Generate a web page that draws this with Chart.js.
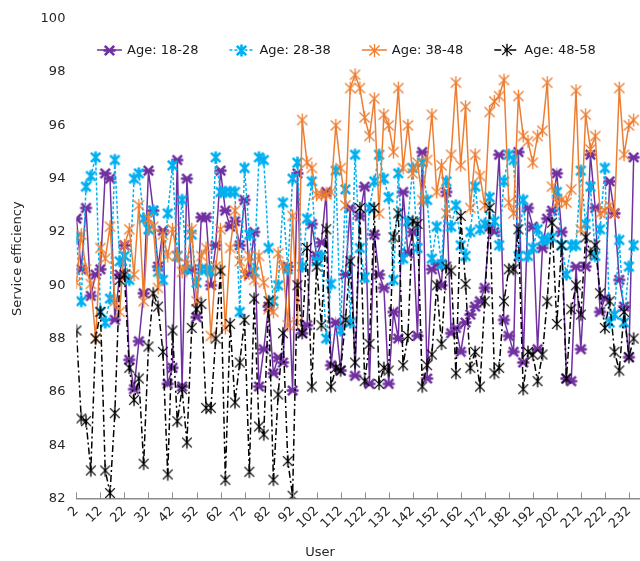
<!DOCTYPE html>
<html>
<head>
<meta charset="utf-8">
<script src="https://cdn.jsdelivr.net/npm/chart.js@4/dist/chart.umd.min.js"></script>
<style>
  html, body { margin: 0; padding: 0; background: #fff; overflow: hidden; }
  #wrap { width: 658px; height: 561px; }
</style>
</head>
<body>
<div id="wrap"><canvas id="chart" width="658" height="561"></canvas></div>
<script>
// users on the x axis (every second user is plotted)
const users = [
  2, 4, 6, 8, 10, 12, 14, 16, 18, 20,
  22, 24, 26, 28, 30, 32, 34, 36, 38, 40,
  42, 44, 46, 48, 50, 52, 54, 56, 58, 60,
  62, 64, 66, 68, 70, 72, 74, 76, 78, 80,
  82, 84, 86, 88, 90, 92, 94, 96, 98, 100,
  102, 104, 106, 108, 110, 112, 114, 116, 118, 120,
  122, 124, 126, 128, 130, 132, 134, 136, 138, 140,
  142, 144, 146, 148, 150, 152, 154, 156, 158, 160,
  162, 164, 166, 168, 170, 172, 174, 176, 178, 180,
  182, 184, 186, 188, 190, 192, 194, 196, 198, 200,
  202, 204, 206, 208, 210, 212, 214, 216, 218, 220,
  222, 224, 226, 228, 230, 232, 234
];

const age18to28 = [
  92.5, 90.6, 92.9, 89.6, 90.4, 90.6, 94.2, 94.0, 88.7, 90.4,
  91.5, 87.2, 86.1, 87.9, 89.7, 94.3, 92.8, 90.7, 92.05, 86.3,
  86.9, 94.7, 86.2, 94.0, 90.6, 88.8, 92.55, 92.55, 90.0, 91.5,
  94.3, 92.8, 92.2, 92.4, 91.5, 93.2, 90.4, 92.0, 86.2, 87.6,
  89.2, 86.7, 87.3, 87.1, 90.7, 86.05, 94.2, 88.2, 88.5, 92.3,
  91.1, 91.6, 93.5, 87.0, 88.6, 86.8, 90.4, 92.9, 86.6, 92.6,
  93.7, 86.3, 91.9, 90.4, 89.9, 86.3, 89.0, 88.0, 93.5, 91.2,
  92.0, 88.1, 95.0, 86.5, 90.6, 90.8, 90.0, 93.5, 88.2, 88.4,
  87.5, 88.6, 88.9, 89.2, 89.4, 89.9, 92.2, 92.0, 94.9, 88.7,
  88.1, 87.5, 95.0, 87.1, 92.9, 92.2, 87.6, 91.4, 92.5, 92.8,
  94.2, 92.0, 86.5, 86.4, 90.7, 87.6, 90.7, 94.9, 92.9, 89.0,
  89.5, 93.9, 92.7, 90.2, 89.2, 87.3, 94.8
];

const age28to38 = [
  91.8, 89.4, 93.7, 94.1, 94.8, 89.0, 88.6, 89.5, 94.7, 90.9,
  91.1, 90.2, 94.0, 94.2, 92.5, 92.1, 92.8, 90.5, 90.2, 92.7,
  94.5, 91.1, 93.2, 90.6, 91.9, 90.1, 90.6, 90.6, 90.5, 94.8,
  93.5, 93.5, 93.5, 93.5, 89.0, 94.4, 91.9, 90.5, 94.8, 94.7,
  91.4, 89.4, 90.0, 93.1, 90.6, 94.0, 94.6, 90.7, 92.5, 93.9,
  90.9, 91.1, 88.0, 90.05, 94.3, 88.3, 93.6, 88.6, 94.9, 91.4,
  90.3, 92.9, 93.9, 94.9, 94.0, 93.3, 90.2, 94.2, 91.0, 92.4,
  94.4, 91.4, 94.6, 93.2, 91.0, 92.2, 90.8, 93.9, 92.2, 93.0,
  91.5, 91.1, 92.0, 93.7, 92.1, 92.3, 93.3, 92.4, 91.5, 93.9,
  94.9, 94.7, 91.1, 93.2, 91.1, 91.4, 92.1, 91.7, 91.7, 91.8,
  93.5, 91.5, 90.4, 91.5, 91.5, 94.3, 92.3, 93.7, 91.1, 92.1,
  94.4, 88.6, 88.9, 91.7, 88.6, 90.7, 91.5
];

const age38to48 = [
  90.1, 91.9, 90.6, 90.05, 88.0, 91.4, 91.0, 92.2, 89.4, 89.0,
  91.5, 92.1, 90.4, 93.0, 89.4, 92.5, 92.2, 89.9, 91.9, 91.1,
  92.1, 91.1, 90.5, 90.8, 92.1, 89.4, 91.1, 91.4, 88.1, 90.7,
  92.1, 88.4, 91.4, 92.8, 90.9, 90.4, 91.1, 90.2, 91.1, 90.1,
  89.1, 89.0, 91.2, 90.7, 88.5, 92.6, 88.6, 96.2, 94.6, 94.4,
  93.4, 93.4, 93.4, 93.5, 96.0, 94.4, 93.0, 97.4, 97.9, 97.4,
  96.3, 95.6, 97.0, 92.7, 96.4, 96.0, 95.0, 97.4, 94.4, 96.0,
  94.2, 94.6, 93.2, 94.7, 96.4, 93.5, 94.5, 92.7, 94.9, 97.6,
  94.5, 96.7, 92.9, 94.9, 94.1, 93.0, 96.5, 96.9, 97.1, 97.7,
  93.1, 92.7, 97.1, 95.6, 95.4, 94.6, 95.6, 95.8, 97.6, 93.7,
  93.1, 93.2, 93.1, 93.6, 97.3, 92.1, 96.4, 95.1, 95.6, 92.7,
  92.8, 93.0, 92.7, 97.4, 94.9, 96.0, 96.2
];

const age48to58 = [
  88.3, 85.0, 84.9, 83.05, 88.0, 89.0, 83.05, 82.2, 85.2, 90.2,
  90.4, 86.9, 85.7, 86.5, 83.3, 87.7, 89.7, 89.2, 87.5, 82.9,
  88.3, 84.9, 86.1, 84.1, 88.4, 89.1, 89.3, 85.4, 85.4, 88.0,
  90.55, 82.7, 88.55, 85.6, 87.1, 88.7, 83.0, 89.5, 84.7, 84.4,
  89.4, 82.7, 85.9, 88.2, 83.4, 82.1, 90.0, 88.2, 91.4, 86.2,
  90.7, 88.5, 92.1, 86.2, 86.9, 86.8, 88.7, 90.9, 87.1, 92.9,
  86.4, 87.8, 92.9, 86.3, 86.9, 86.8, 91.8, 92.7, 87.0, 88.1,
  92.4, 92.3, 86.2, 87.0, 87.4, 90.0, 87.8, 90.7, 90.55, 86.7,
  92.6, 90.05, 86.9, 87.5, 86.2, 89.4, 92.9, 86.7, 86.9, 89.4,
  90.6, 90.6, 92.1, 86.1, 87.5, 87.4, 86.4, 87.4, 89.4, 92.35,
  88.55, 91.5, 86.5, 89.1, 90.0, 88.9, 91.8, 91.2, 91.5, 89.7,
  88.4, 89.4, 87.5, 86.8, 89.0, 87.3, 88.0
];

const seriesNames = ["Age: 18-28", "Age: 28-38", "Age: 38-48", "Age: 48-58"];
const xTickLabels = [2, 12, 22, 32, 42, 52, 62, 72, 82, 92, 102, 112, 122, 132, 142, 152, 162, 172, 182, 192, 202, 212, 222, 232];
const yTickLabels = [82, 84, 86, 88, 90, 92, 94, 96, 98, 100];

const FONT = '"DejaVu Sans", Verdana, sans-serif';

// asterisk-like markers
function makeMarker(color, lw, r, bar) {
  const size = Math.ceil(2 * r + lw + 2);
  const c = document.createElement("canvas");
  c.width = size;
  c.height = size;
  const g = c.getContext("2d");
  const m = size / 2;
  const d = r * 0.78;
  g.strokeStyle = color;
  g.lineWidth = lw;
  g.beginPath();
  g.moveTo(m - d, m - d); g.lineTo(m + d, m + d);
  g.moveTo(m - d, m + d); g.lineTo(m + d, m - d);
  if (bar === "v") { g.moveTo(m, m - r); g.lineTo(m, m + r); }
  if (bar === "h") { g.moveTo(m - r, m); g.lineTo(m + r, m); }
  g.stroke();
  return c;
}

const colors = ["#7030a0", "#00b0f0", "#ed7d31", "#000000"];
const markers = [
  makeMarker(colors[0], 2.6, 6, "h"),
  makeMarker(colors[1], 2.6, 6, "v"),
  makeMarker(colors[2], 1.3, 6.5, "v"),
  makeMarker(colors[3], 1.3, 6.2, "v")
];

function toPoints(values) {
  return users.map((u, i) => ({ x: u, y: values[i] }));
}

// legend drawn inside the plot area
const insideLegend = {
  id: "insideLegend",
  afterDraw(chart) {
    const ctx = chart.ctx;
    let x = 97;
    const y = 50;
    ctx.save();
    ctx.font = "13px " + FONT;
    ctx.textBaseline = "middle";
    chart.data.datasets.forEach(ds => {
      ctx.strokeStyle = ds.borderColor;
      ctx.lineWidth = ds.borderWidth;
      ctx.setLineDash(ds.borderDash || []);
      ctx.beginPath();
      ctx.moveTo(x, y);
      ctx.lineTo(x + 25, y);
      ctx.stroke();
      ctx.setLineDash([]);
      const img = ds.pointStyle;
      ctx.drawImage(img, Math.round(x + 12.5 - img.width / 2), Math.round(y - img.height / 2));
      ctx.fillStyle = "#1a1a1a";
      ctx.fillText(ds.label, x + 30, y + 1);
      x += 30 + ctx.measureText(ds.label).width + 31;
    });
    ctx.restore();
  }
};

// tick marks pointing into the plot, plus the x title
const axisExtras = {
  id: "axisExtras",
  afterDraw(chart) {
    const ctx = chart.ctx;
    const xs = chart.scales.x;
    const bottom = chart.chartArea.bottom;
    ctx.save();
    ctx.strokeStyle = "#8c8c8c";
    ctx.lineWidth = 1;
    xs.ticks.forEach(t => {
      const px = Math.round(xs.getPixelForValue(t.value)) + 0.5;
      ctx.beginPath();
      ctx.moveTo(px, bottom);
      ctx.lineTo(px, bottom - 6);
      ctx.stroke();
    });
    ctx.fillStyle = "#262626";
    ctx.font = "13px " + FONT;
    ctx.textAlign = "center";
    ctx.textBaseline = "middle";
    ctx.fillText("User", 320, 553);
    ctx.restore();
  }
};

const datasets = [age18to28, age28to38, age38to48, age48to58].map((vals, i) => ({
  label: seriesNames[i],
  data: toPoints(vals),
  borderColor: colors[i],
  backgroundColor: colors[i],
  borderWidth: 1.5,
  borderDash: [[], [3, 2], [], [7, 3, 2, 3]][i],
  pointStyle: markers[i],
  pointRadius: 6,
  tension: 0,
  order: 4 - i
}));

new Chart(document.getElementById("chart"), {
  type: "line",
  data: { datasets: datasets },
  options: {
    responsive: false,
    animation: false,
    devicePixelRatio: 1,
    layout: { padding: { top: 10, left: 6, right: 0, bottom: 24 } },
    plugins: {
      legend: { display: false },
      tooltip: { enabled: false }
    },
    scales: {
      x: {
        type: "linear",
        min: 2,
        max: 241,
        afterBuildTicks: scale => { scale.ticks = xTickLabels.map(v => ({ value: v })); },
        grid: { display: false, drawTicks: false },
        border: { display: true, color: "#8c8c8c", width: 1.5 },
        ticks: {
          autoSkip: false,
          minRotation: 45,
          maxRotation: 45,
          padding: 5,
          color: "#262626",
          font: { family: FONT, size: 13 }
        }
      },
      y: {
        min: 82,
        max: 100,
        afterBuildTicks: scale => { scale.ticks = yTickLabels.map(v => ({ value: v })); },
        grid: { display: false, drawTicks: false },
        border: { display: false },
        ticks: {
          padding: 11,
          color: "#262626",
          font: { family: FONT, size: 13 }
        },
        title: {
          display: true,
          text: "Service efficiency",
          color: "#262626",
          padding: { top: 4, bottom: 4 },
          font: { family: FONT, size: 13 }
        }
      }
    }
  },
  plugins: [insideLegend, axisExtras]
});
</script>
</body>
</html>
